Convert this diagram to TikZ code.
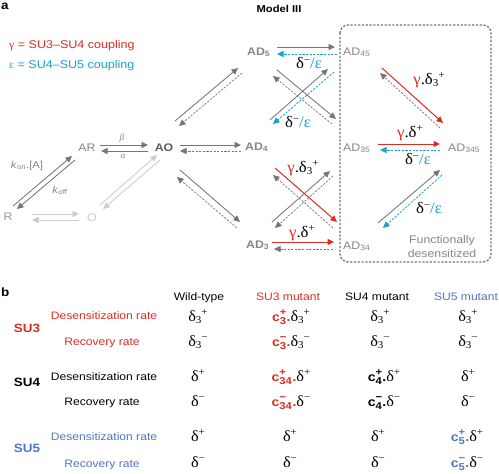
\documentclass[tikz,border=0pt]{standalone}
\usepackage{fontspec}
\setmainfont{Liberation Sans}[FakeStretch=1.12]
\newfontfamily\gr{Liberation Serif}[FakeStretch=1.05]
\usetikzlibrary{arrows.meta}
\definecolor{agray}{RGB}{118,118,118}
\definecolor{lgray}{RGB}{205,205,205}
\definecolor{ngray}{RGB}{135,135,135}
\definecolor{dgray}{RGB}{95,95,95}
\definecolor{nred}{RGB}{220,45,35}
\definecolor{ncyan}{RGB}{25,160,205}
\definecolor{nblue}{RGB}{80,120,190}
\newcommand\ssz{\fontsize{10.5}{10.5}\selectfont}
\newcommand\csz{\fontsize{10}{10}\selectfont}
\newcommand\dl[2]{{\gr δ\raisebox{-2.5pt}{\ssz #1}\raisebox{5.5pt}{\ssz #2}}}
\newcommand\dd[1]{{\gr δ\raisebox{5.5pt}{\ssz #1}}}
\newcommand\dme{{\gr δ\raisebox{5.5pt}{\ssz −}\textcolor{ncyan}{/ε}}}
\newcommand\gdla[2]{{\gr\textcolor{nred}{γ}.\dl{#1}{#2}}}
\newcommand\gdlb[1]{{\gr\textcolor{nred}{γ}.\dd{#1}}}
\newcommand\cf[3]{\textcolor{#1}{\fontsize{12.5}{14}\selectfont\bfseries c\rlap{\raisebox{6pt}{\csz #3}}\raisebox{-3pt}{\csz #2}\hspace{0.6pt}.}}
\tikzset{
  tx/.style={inner sep=0pt, font=\fontsize{11}{13}\selectfont},
  txb/.style={inner sep=0pt, font=\fontsize{11}{13}\selectfont\bfseries},
  glab/.style={inner sep=0pt, font=\fontsize{16}{18}\selectfont},
  tab/.style={inner sep=0pt, font=\fontsize{10.8}{13}\selectfont, anchor=base},
  val/.style={inner sep=0pt, font=\fontsize{15.5}{17}\selectfont, anchor=base},
  tip/.style={-{Triangle[length=6.5pt,width=6pt]}},
  fwd/.style={tip, draw=agray, line width=0.85pt},
  bwd/.style={tip, draw=agray, line width=0.7pt, dash pattern=on 2.2pt off 1.4pt},
  fwdr/.style={tip, draw=nred, line width=1pt},
  bwdc/.style={tip, draw=ncyan, line width=0.8pt, dash pattern=on 2.2pt off 1.4pt},
  lite/.style={tip, draw=lgray, line width=0.85pt},
  fbox/.style={draw=agray, line width=1.3pt, dash pattern=on 2.2pt off 1.6pt, rounded corners=8pt}
}
\begin{document}
\begin{tikzpicture}[x=1pt,y=-1pt]
\useasboundingbox[fill=white] (0,0) rectangle (499,474);
% ---------- panel a: texts ----------
\node[txb, anchor=base west, font=\fontsize{12}{14}\selectfont\bfseries] (la) at (1,9) {a};
\node[txb, anchor=base, font=\fontsize{10}{12}\selectfont\bfseries] (title) at (279,12) {Model III};
\node[tx, anchor=base west, text=nred, font=\fontsize{11.2}{13}\selectfont] (leg1) at (9,48) {{\gr γ} = SU3–SU4 coupling};
\node[tx, anchor=base west, text=ncyan, font=\fontsize{11.2}{13}\selectfont] (leg2) at (9,68) {{\gr ε} = SU4–SU5 coupling};
% states
\node[tx, anchor=base, text=ngray!85] (R) at (8,220) {R};
\node[tx, anchor=base, text=lgray] (O) at (92,221) {O};
\node[tx, anchor=base, text=ngray] (AR) at (87,151) {AR};
\node[txb, anchor=base, text=dgray] (AO) at (164,151) {AO};
\node[txb, anchor=base west, text=ngray] (AD5) at (247,55) {AD\textsubscript{5}};
\node[txb, anchor=base west, text=ngray] (AD4) at (245,150) {AD\textsubscript{4}};
\node[txb, anchor=base west, text=ngray] (AD3) at (246,248) {AD\textsubscript{3}};
\node[tx, anchor=base west, text=ngray] (AD45) at (343,55) {AD\textsubscript{45}};
\node[tx, anchor=base west, text=ngray] (AD35) at (343,151) {AD\textsubscript{35}};
\node[tx, anchor=base west, text=ngray] (AD345) at (448,151) {AD\textsubscript{345}};
\node[tx, anchor=base west, text=ngray] (AD34) at (343,249) {AD\textsubscript{34}};
\node[tx, anchor=base, text=ngray] (fd1) at (442,243) {Functionally};
\node[tx, anchor=base, text=ngray] (fd2) at (442,257) {desensitized};
% rate labels
\node[inner sep=0pt, anchor=base, text=ngray, font=\fontsize{9}{10}\selectfont\gr\itshape] (beta) at (122,140) {β};
\node[inner sep=0pt, anchor=base, text=ngray, font=\fontsize{9}{10}\selectfont\gr\itshape] (alpha) at (123,158) {α};
\node[tx, anchor=base, text=ngray, font=\fontsize{10}{12}\selectfont] (kon) at (27,168) {\textit{k}\textsubscript{on}.[A]};
\node[tx, anchor=base, text=ngray, font=\fontsize{10}{12}\selectfont] (koff) at (60,193) {\textit{k}\textsubscript{off}};
\node[glab] (l1) at (309,63) {\dme};
\node[glab] (l2) at (298,122) {\dme};
\node[glab] (l3) at (303,168) {\gdla{3}{+}};
\node[glab] (l4) at (302,233) {\gdlb{+}};
\node[glab] (l5) at (429,80) {\gdla{3}{+}};
\node[glab] (l6) at (410,133) {\gdlb{+}};
\node[glab] (l7) at (418,159) {\dme};
\node[glab] (l8) at (429,208) {\dme};
% box
\draw[fbox] (340,25) rectangle (491,262);
% ---------- arrow end points ----------
\coordinate (p1a) at (13,206); \coordinate (p1b) at (72,156);
\coordinate (p1c) at (75,160); \coordinate (p1d) at (17,209);
\coordinate (p2a) at (100,145); \coordinate (p2b) at (148,145);
\coordinate (p2c) at (148,151); \coordinate (p2d) at (101,151);
\coordinate (p3a) at (32,214); \coordinate (p3b) at (79,214);
\coordinate (p3c) at (79,220); \coordinate (p3d) at (32,220);
\coordinate (p4a) at (100,205); \coordinate (p4b) at (157,155);
\coordinate (p4c) at (160,160); \coordinate (p4d) at (103,209);
\coordinate (p5a) at (180,145); \coordinate (p5b) at (241,145);
\coordinate (p5c) at (241,151); \coordinate (p5d) at (180,151);
\coordinate (p6a) at (175,121); \coordinate (p6b) at (238,68);
\coordinate (p6c) at (242,73); \coordinate (p6d) at (179,126);
\coordinate (p7a) at (180,170); \coordinate (p7b) at (240,222);
\coordinate (p7c) at (237,228); \coordinate (p7d) at (177,177);
\coordinate (p8a) at (277,47); \coordinate (p8b) at (335,47);
\coordinate (p8c) at (337,54); \coordinate (p8d) at (277,54);
\coordinate (p9a) at (270,120); \coordinate (p9b) at (328,69);
\coordinate (p9c) at (334,72); \coordinate (p9d) at (273,124);
\coordinate (q1a) at (277,70); \coordinate (q1b) at (336,119);
\coordinate (q1c) at (332,124); \coordinate (q1d) at (273,76);
\coordinate (q2a) at (275,168); \coordinate (q2b) at (337,222);
\coordinate (q2c) at (333,228); \coordinate (q2d) at (273,175);
\coordinate (q3a) at (272,222); \coordinate (q3b) at (330,171);
\coordinate (q3c) at (333,176); \coordinate (q3d) at (275,228);
\coordinate (q4a) at (272,242); \coordinate (q4b) at (334,242);
\coordinate (q4c) at (333,249); \coordinate (q4d) at (274,249);
\coordinate (q5a) at (382,68); \coordinate (q5b) at (443,123);
\coordinate (q5c) at (440,128); \coordinate (q5d) at (380,73);
\coordinate (q6a) at (378,144); \coordinate (q6b) at (440,144);
\coordinate (q6c) at (440,150); \coordinate (q6d) at (380,150);
\coordinate (q7a) at (378,223); \coordinate (q7b) at (440,170);
\coordinate (q7c) at (442,175); \coordinate (q7d) at (383,228);
% ---------- arrows ----------
\draw[fwd] (p1a) -- (p1b); \draw[fwd] (p1c) -- (p1d);
\draw[fwd] (p2a) -- (p2b); \draw[fwd] (p2c) -- (p2d);
\draw[lite] (p3a) -- (p3b); \draw[lite] (p3c) -- (p3d);
\draw[lite] (p4a) -- (p4b); \draw[lite] (p4c) -- (p4d);
\draw[fwd] (p5a) -- (p5b); \draw[bwd] (p5c) -- (p5d);
\draw[fwd] (p6a) -- (p6b); \draw[bwd] (p6c) -- (p6d);
\draw[fwd] (p7a) -- (p7b); \draw[bwd] (p7c) -- (p7d);
\draw[fwd] (p8a) -- (p8b); \draw[bwdc] (p8c) -- (p8d);
\draw[fwd] (q1a) -- (q1b); \draw[bwd] (q1c) -- (q1d);
\draw[fwd] (p9a) -- (p9b); \draw[bwdc] (p9c) -- (p9d);
\draw[fwd] (q3a) -- (q3b); \draw[bwd] (q3c) -- (q3d);
\draw[fwdr] (q2a) -- (q2b); \draw[bwd] (q2c) -- (q2d);
\draw[fwdr] (q4a) -- (q4b); \draw[bwd] (q4c) -- (q4d);
\draw[fwdr] (q5a) -- (q5b); \draw[bwd] (q5c) -- (q5d);
\draw[fwdr] (q6a) -- (q6b); \draw[bwdc] (q6c) -- (q6d);
\draw[fwd] (q7a) -- (q7b); \draw[bwdc] (q7c) -- (q7d);
% ---------- panel b ----------
\node[txb, anchor=base west, font=\fontsize{12}{14}\selectfont\bfseries] (lb) at (1,296) {b};
\node[tab] (h1) at (199,300) {Wild-type};
\node[tab, text=nred] (h2) at (288,300) {SU3 mutant};
\node[tab] (h3) at (377,300) {SU4 mutant};
\node[tab, text=nblue] (h4) at (466,300) {SU5 mutant};
\node[tab, font=\fontsize{12}{14}\selectfont\bfseries, text=nred] (su3) at (27,332) {SU3};
\node[tab, font=\fontsize{12}{14}\selectfont\bfseries] (su4) at (27,386) {SU4};
\node[tab, font=\fontsize{12}{14}\selectfont\bfseries, text=nblue] (su5) at (27,452) {SU5};
\node[tab, text=nred] (r1) at (104,319) {Desensitization rate};
\node[tab, text=nred] (r2) at (102,345) {Recovery rate};
\node[tab] (r3) at (104,380) {Desensitization rate};
\node[tab] (r4) at (102,405) {Recovery rate};
\node[tab, text=nblue] (r5) at (104,440) {Desensitization rate};
\node[tab, text=nblue] (r6) at (102,467) {Recovery rate};
% values
\node[val] (v11) at (198,321) {\dl{3}{+}};
\node[val] (v12) at (291,321) {\cf{nred}{3}{+}\dl{3}{+}};
\node[val] (v13) at (380,321) {\dl{3}{+}};
\node[val] (v14) at (468,321) {\dl{3}{+}};
\node[val] (v21) at (198,346) {\dl{3}{−}};
\node[val] (v22) at (291,346) {\cf{nred}{3}{−}\dl{3}{−}};
\node[val] (v23) at (380,346) {\dl{3}{−}};
\node[val] (v24) at (468,346) {\dl{3}{−}};
\node[val] (v31) at (198,381) {\dd{+}};
\node[val] (v32) at (291,381) {\cf{nred}{34}{+}\dd{+}};
\node[val] (v33) at (384,381) {\cf{black}{4}{+}\dd{+}};
\node[val] (v34) at (468,381) {\dd{+}};
\node[val] (v41) at (198,406) {\dd{−}};
\node[val] (v42) at (291,406) {\cf{nred}{34}{−}\dd{−}};
\node[val] (v43) at (384,406) {\cf{black}{4}{−}\dd{−}};
\node[val] (v44) at (468,406) {\dd{−}};
\node[val] (v51) at (198,441) {\dd{+}};
\node[val] (v52) at (290,441) {\dd{+}};
\node[val] (v53) at (378,441) {\dd{+}};
\node[val] (v54) at (467,441) {\cf{nblue}{5}{+}\dd{+}};
\node[val] (v61) at (198,467) {\dd{−}};
\node[val] (v62) at (290,467) {\dd{−}};
\node[val] (v63) at (378,467) {\dd{−}};
\node[val] (v64) at (467,467) {\cf{nblue}{5}{−}\dd{−}};
\end{tikzpicture}
\end{document}
